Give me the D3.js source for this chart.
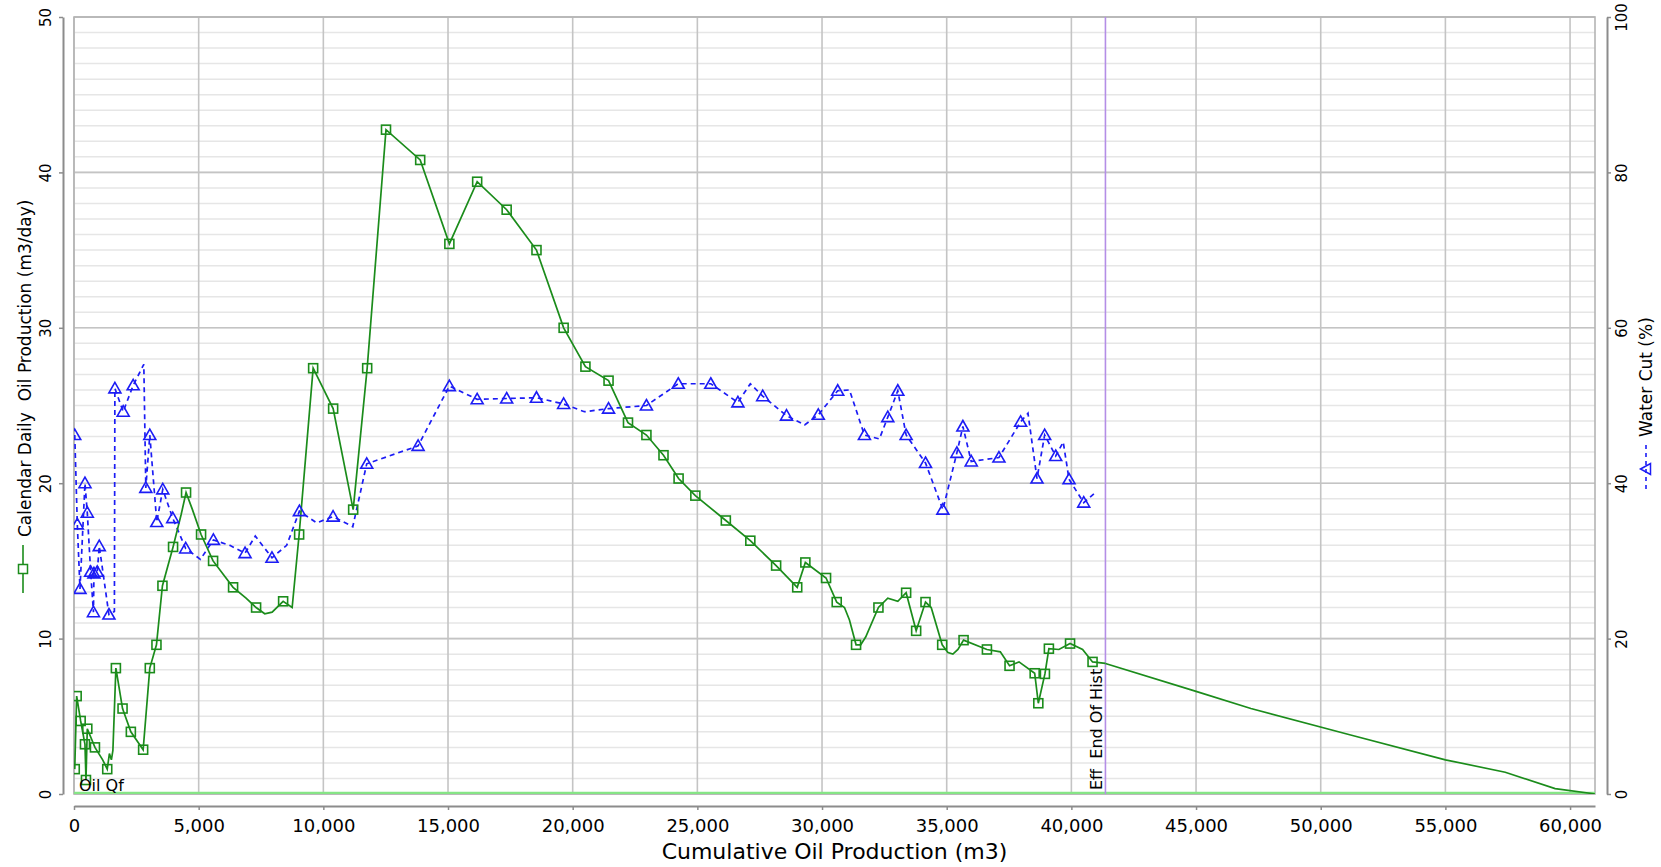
<!DOCTYPE html>
<html>
<head>
<meta charset="utf-8">
<script src="https://cdn.jsdelivr.net/npm/d3@7"></script>
<style>
body { margin: 0; background: #fff; }
svg text { font-family: "DejaVu Sans", sans-serif; fill: #000; }
</style>
</head>
<body>
<svg id="chart" width="1661" height="867"></svg>
<script>
// Oil rate history (m3/day) against cumulative oil (m3); oilMark = 1 where a marker is drawn
var oilCum  = [30, 107, 267, 440, 480, 533, 840, 1150, 1333, 1420, 1500, 1560, 1680, 1947, 2280, 2773,
               3040, 3307, 3547, 3973, 4300, 4494, 4750, 5096, 5578, 6380, 6900, 7303, 7650, 7946, 8387, 8749, 9029, 9591,
               10393, 11196, 11758, 12513, 13884, 15054, 16169, 17352, 18548, 19637, 20511, 21438,
               22218, 22957, 23642, 24247, 24919, 26142, 27124, 28159, 29005, 29331, 30161, 30589,
               30900, 31100, 31365, 31550, 31750, 32262, 32637, 33039, 33373, 33775, 34150, 34378, 34819, 35050, 35248,
               35450, 35676, 36613, 37150, 37520, 37900, 38528, 38674, 38939, 39098, 39500, 39947, 40450, 40849, 41366];
var oilRate = [1.6, 6.3, 4.7, 3.2, 0.9, 4.2, 3.0, 2.2, 1.6, 2.6, 2.2, 2.8, 8.1, 5.5, 4.0, 2.85,
               8.1, 9.6, 13.4, 15.9, 18.0, 19.4, 18.3, 16.7, 15.0, 13.3, 12.6, 12.0, 11.6, 11.7, 12.4, 12.0, 16.7, 27.4,
               24.8, 18.3, 27.4, 42.75, 40.8, 35.4, 39.4, 37.6, 35.0, 30.0, 27.5, 26.6,
               23.9, 23.1, 21.8, 20.3, 19.2, 17.6, 16.3, 14.7, 13.3, 14.9, 13.9, 12.35,
               12.0, 11.2, 9.6, 9.6, 10.1, 12.0, 12.6, 12.4, 12.95, 10.5, 12.35, 12.0, 9.6, 9.1, 9.0,
               9.3, 9.9, 9.3, 9.15, 8.25, 8.5, 7.77, 5.84, 7.73, 9.35, 9.3, 9.68, 9.3, 8.5, 8.4];
var oilMark = [1, 1, 1, 1, 1, 1, 1, 0, 1, 0, 0, 0, 1, 1, 1, 1,
               1, 1, 1, 1, 0, 1, 0, 1, 1, 1, 0, 1, 0, 0, 1, 0, 1, 1,
               1, 1, 1, 1, 1, 1, 1, 1, 1, 1, 1, 1,
               1, 1, 1, 1, 1, 1, 1, 1, 1, 1, 1, 1,
               0, 0, 1, 0, 0, 1, 0, 0, 1, 1, 1, 0, 1, 0, 0,
               0, 1, 1, 0, 1, 0, 1, 1, 1, 1, 0, 1, 0, 1, 0];

// Oil rate forecast after end of history
var fcCum  = [41366, 45000, 47200, 51200, 55000, 57400, 59400, 60800, 61000];
var fcRate = [8.4, 6.6, 5.5, 3.8, 2.2, 1.4, 0.35, 0.05, 0];

// Water cut (%) against cumulative oil (m3)
var wcCum  = [30, 133, 240, 440, 533, 667, 780, 800, 933, 1013, 1400, 1620, 1640, 1973, 2373, 2800,
              2880, 3040, 3320, 3560, 3960, 4480, 5070, 5590, 6250, 6860, 7270, 7940, 8530, 9040,
              9730, 10390, 11180, 11740, 13800, 15054, 16169, 17352, 18548, 19637, 20470, 21438,
              22957, 24234, 25538, 26626, 27124, 27621, 28575, 29300, 29850, 30629, 31100, 31700,
              32300, 32637, 33039, 33373, 34150, 34846, 35408, 35649, 35984, 37095, 37965, 38260,
              38621, 38929, 39371, 39673, 39906, 40495, 41004];
var wcPct  = [46.2, 34.7, 26.4, 40.0, 36.2, 28.6, 23.4, 28.4, 28.6, 31.9, 23.1, 23.5, 52.2, 49.2, 52.6, 55.3,
              39.4, 46.2, 35.0, 39.2, 35.5, 31.6, 30.2, 32.7, 32.0, 31.0, 33.2, 30.4, 32.0, 36.4,
              34.9, 35.7, 34.4, 42.5, 44.8, 52.5, 50.8, 50.9, 51.0, 50.2, 49.2, 49.6,
              50.0, 52.8, 52.8, 50.4, 52.8, 51.2, 48.7, 47.5, 48.8, 51.9, 52.0, 46.2,
              45.7, 48.5, 51.9, 46.2, 42.6, 36.6, 43.9, 47.3, 42.8, 43.3, 47.9, 49.0,
              40.6, 46.2, 43.5, 45.3, 40.5, 37.5, 38.9];
var wcMark = [1, 1, 1, 1, 1, 1, 1, 1, 1, 1, 1, 0, 1, 1, 1, 0,
              1, 1, 1, 1, 1, 1, 0, 1, 0, 1, 0, 1, 0, 1,
              0, 1, 0, 1, 1, 1, 1, 1, 1, 1, 0, 1,
              1, 1, 1, 1, 0, 1, 1, 0, 1, 1, 0, 1,
              0, 1, 1, 1, 1, 1, 1, 1, 1, 1, 1, 0,
              1, 1, 1, 0, 1, 1, 0];

var xTicks = [0, 5000, 10000, 15000, 20000, 25000, 30000, 35000, 40000, 45000, 50000, 55000, 60000];
var leftTicks = [0, 10, 20, 30, 40, 50];
var rightTicks = [0, 20, 40, 60, 80, 100];
var endOfHist = 41366;

var oilColor = "#1b8c1b";
var wcColor = "#1c1cf5";

var svg = d3.select("#chart");
var plot = { left: 74, right: 1595, top: 17, bottom: 794 };

var x = d3.scaleLinear().domain([0, 61000]).range([plot.left, plot.right]);
var yL = d3.scaleLinear().domain([0, 50]).range([plot.bottom, plot.top]);
var yR = d3.scaleLinear().domain([0, 100]).range([plot.bottom, plot.top]);

svg.append("defs").append("clipPath").attr("id", "plotClip")
    .append("rect")
    .attr("x", plot.left).attr("y", plot.top)
    .attr("width", plot.right - plot.left).attr("height", plot.bottom - plot.top);

// Grid
var gridG = svg.append("g");
gridG.selectAll(".minor")
    .data(d3.range(0, 51))
    .enter().append("line")
    .attr("x1", plot.left).attr("x2", plot.right)
    .attr("y1", function(d) { return yL(d); })
    .attr("y2", function(d) { return yL(d); })
    .attr("stroke", "#e6e6e6").attr("stroke-width", 1.5);
gridG.selectAll(".majorH")
    .data(leftTicks)
    .enter().append("line")
    .attr("x1", plot.left).attr("x2", plot.right)
    .attr("y1", function(d) { return yL(d); })
    .attr("y2", function(d) { return yL(d); })
    .attr("stroke", "#c4c4c4").attr("stroke-width", 1.6);
gridG.selectAll(".majorV")
    .data(xTicks)
    .enter().append("line")
    .attr("y1", plot.top).attr("y2", plot.bottom)
    .attr("x1", function(d) { return x(d); })
    .attr("x2", function(d) { return x(d); })
    .attr("stroke", "#c4c4c4").attr("stroke-width", 1.6);
gridG.append("rect")
    .attr("x", plot.left).attr("y", plot.top)
    .attr("width", plot.right - plot.left).attr("height", plot.bottom - plot.top)
    .attr("fill", "none").attr("stroke", "#b4b4b4").attr("stroke-width", 1.6);

// Axes
function styleAxis(g) {
    g.select(".domain").attr("stroke", "#8c8c8c").attr("stroke-width", 2);
    g.selectAll(".tick line").attr("stroke", "#8c8c8c").attr("stroke-width", 1.5);
    g.selectAll(".tick text").attr("fill", "#000");
}

var leftAxis = svg.append("g")
    .attr("transform", "translate(63,0)")
    .call(d3.axisLeft(yL).tickValues(leftTicks).tickSize(4).tickSizeOuter(0));
styleAxis(leftAxis);
leftAxis.selectAll(".tick text")
    .attr("transform", "rotate(-90)")
    .attr("x", 0).attr("y", -12.5).attr("dy", 0)
    .attr("text-anchor", "middle")
    .style("font-size", "15px");

var rightAxis = svg.append("g")
    .attr("transform", "translate(1607,0)")
    .call(d3.axisRight(yR).tickValues(rightTicks).tickSize(4).tickSizeOuter(0));
styleAxis(rightAxis);
rightAxis.selectAll(".tick text")
    .attr("transform", "rotate(-90)")
    .attr("x", 0).attr("y", 20).attr("dy", 0)
    .attr("text-anchor", "middle")
    .style("font-size", "15px");

var bottomAxis = svg.append("g")
    .attr("transform", "translate(0,806)")
    .call(d3.axisBottom(x).tickValues(xTicks).tickFormat(d3.format(",")).tickSize(4).tickSizeOuter(0));
styleAxis(bottomAxis);
bottomAxis.selectAll(".tick text")
    .attr("y", 26).attr("dy", 0)
    .style("font-size", "18px");

// Axis titles
svg.append("text")
    .attr("x", (plot.left + plot.right) / 2).attr("y", 859)
    .attr("text-anchor", "middle")
    .style("font-size", "22px")
    .text("Cumulative Oil Production (m3)");

svg.append("text")
    .attr("transform", "translate(31,537) rotate(-90)")
    .attr("text-anchor", "start")
    .style("font-size", "17px")
    .style("white-space", "pre")
    .text("Calendar Daily  Oil Production (m3/day)");

svg.append("text")
    .attr("transform", "translate(1652,437) rotate(-90)")
    .attr("text-anchor", "start")
    .style("font-size", "17px")
    .text("Water Cut (%)");

// Legend glyphs beside the axis titles
svg.append("line")
    .attr("x1", 23).attr("x2", 23).attr("y1", 545).attr("y2", 593)
    .attr("stroke", oilColor).attr("stroke-width", 1.6);
svg.append("rect")
    .attr("x", 18.5).attr("y", 564.5).attr("width", 9).attr("height", 9)
    .attr("fill", "#fff").attr("stroke", oilColor).attr("stroke-width", 1.5);
svg.append("line")
    .attr("x1", 1646).attr("x2", 1646).attr("y1", 445).attr("y2", 493)
    .attr("stroke", wcColor).attr("stroke-width", 1.6).attr("stroke-dasharray", "4,4");
svg.append("path")
    .attr("transform", "translate(1646,469) rotate(-90)")
    .attr("d", "M0,-5.5L5.5,4.5L-5.5,4.5Z")
    .attr("fill", "none").attr("stroke", wcColor).attr("stroke-width", 1.5);

// Series
var seriesG = svg.append("g").attr("clip-path", "url(#plotClip)");

// zero line of the Qf series
seriesG.append("line")
    .attr("x1", x(0)).attr("x2", x(61000))
    .attr("y1", yL(0) - 1).attr("y2", yL(0) - 1)
    .attr("stroke", "#86e586").attr("stroke-width", 2.6);

// end of history marker
seriesG.append("line")
    .attr("x1", x(endOfHist)).attr("x2", x(endOfHist))
    .attr("y1", plot.top).attr("y2", plot.bottom)
    .attr("stroke", "#b48ee6").attr("stroke-width", 1.6);

var oilData = oilCum.map(function(d, i) { return { x: d, y: oilRate[i], m: oilMark[i] }; });
var fcData = fcCum.map(function(d, i) { return { x: d, y: fcRate[i] }; });
var wcData = wcCum.map(function(d, i) { return { x: d, y: wcPct[i], m: wcMark[i] }; });

var oilLine = d3.line()
    .x(function(d) { return x(d.x); })
    .y(function(d) { return yL(d.y); });
var wcLine = d3.line()
    .x(function(d) { return x(d.x); })
    .y(function(d) { return yR(d.y); });

seriesG.append("path").datum(wcData)
    .attr("d", wcLine)
    .attr("fill", "none").attr("stroke", wcColor)
    .attr("stroke-width", 1.7).attr("stroke-dasharray", "5,4");

seriesG.append("path").datum(oilData)
    .attr("d", oilLine)
    .attr("fill", "none").attr("stroke", oilColor).attr("stroke-width", 1.7);

seriesG.append("path").datum(fcData)
    .attr("d", oilLine)
    .attr("fill", "none").attr("stroke", oilColor).attr("stroke-width", 1.7);

seriesG.selectAll(".wcMarker")
    .data(wcData.filter(function(d) { return d.m; }))
    .enter().append("path")
    .attr("class", "wcMarker")
    .attr("transform", function(d) { return "translate(" + x(d.x) + "," + yR(d.y) + ")"; })
    .attr("d", "M0,-6L6,4.5L-6,4.5Z")
    .attr("fill", "none").attr("stroke", wcColor).attr("stroke-width", 1.6);

seriesG.selectAll(".oilMarker")
    .data(oilData.filter(function(d) { return d.m; }))
    .enter().append("rect")
    .attr("class", "oilMarker")
    .attr("x", function(d) { return x(d.x) - 4.5; })
    .attr("y", function(d) { return yL(d.y) - 4.5; })
    .attr("width", 9).attr("height", 9)
    .attr("fill", "none").attr("stroke", oilColor).attr("stroke-width", 1.6);

// Annotations
svg.append("text")
    .attr("x", 79).attr("y", 791)
    .style("font-size", "16px")
    .text("Oil Qf");

svg.append("text")
    .attr("transform", "translate(" + (x(endOfHist) - 3) + ",790) rotate(-90)")
    .attr("text-anchor", "start")
    .style("font-size", "16px")
    .style("white-space", "pre")
    .text("Eff  End Of Hist");
</script>
</body>
</html>
